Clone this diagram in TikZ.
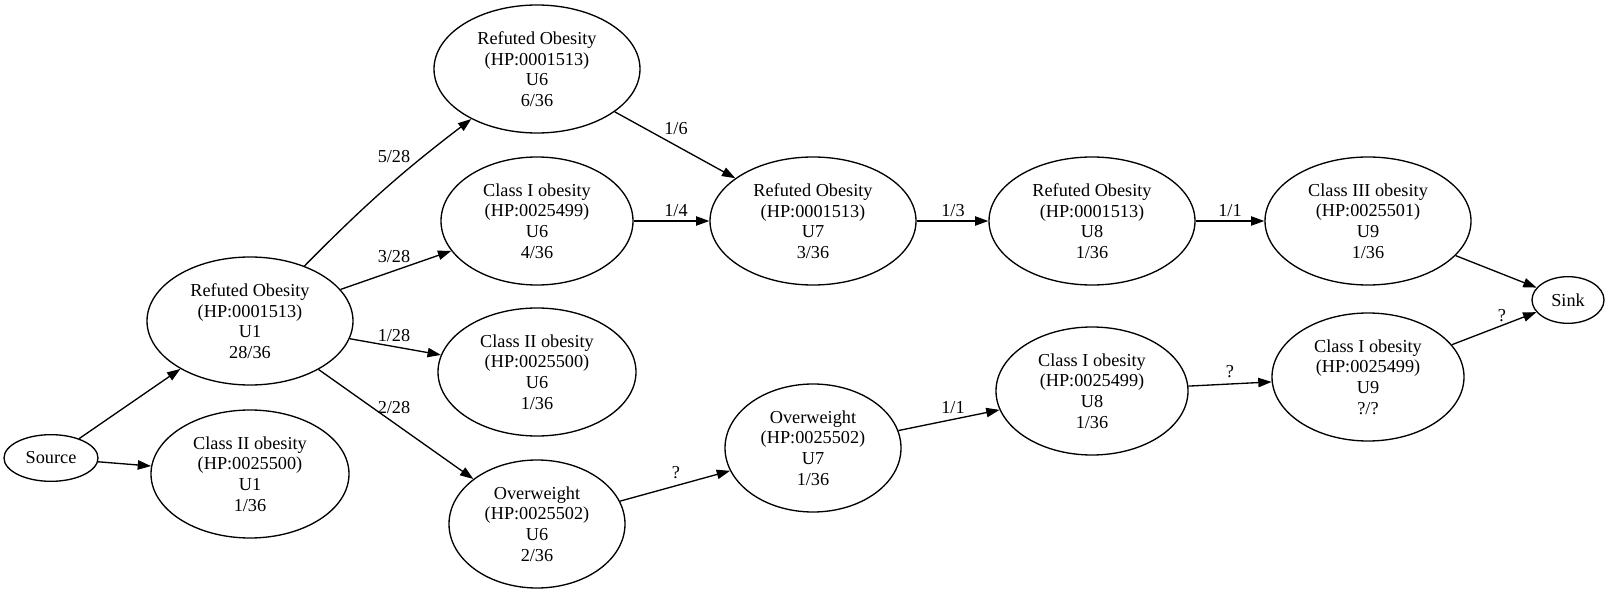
\documentclass[tikz,border=0pt]{standalone}
\usepackage{fontspec}
\setmainfont{Liberation Serif}
\usetikzlibrary{shapes.geometric,arrows.meta}

\begin{document}
\begin{tikzpicture}[x=0.75pt,y=-0.75pt,
    state/.style={ellipse, draw, line width=1pt, inner sep=0pt, align=center,
      minimum height=96pt, font=\fontsize{13.7}{15.4}\selectfont},
    edge/.style={line width=1pt, -{Triangle[length=10pt,width=7pt]}},
    lbl/.style={font=\fontsize{13.7}{15.4}\selectfont, inner sep=0pt}]

      % Page size (pixels of the reference)
      \useasboundingbox (0,0) rectangle (1610,595);

      % Source and sink
      \node[state, minimum width=70.5pt, minimum height=35pt] (src) at (51,458) {Source};
      \node[state, minimum width=54pt, minimum height=35pt] (sink) at (1568,300) {Sink};

      % Rank U1
      \node[state, minimum width=154.5pt] (ro1) at (250,321) {Refuted Obesity\\ (HP:0001513)\\U1\\28/36};
      \node[state, minimum width=148.5pt] (ctwo1) at (250,474) {Class II obesity\\ (HP:0025500)\\U1\\1/36};

      % Rank U6
      \node[state, minimum width=154.5pt] (ro6) at (537,69) {Refuted Obesity\\ (HP:0001513)\\U6\\6/36};
      \node[state, minimum width=144pt] (cone6) at (537,221) {Class I obesity\\ (HP:0025499)\\U6\\4/36};
      \node[state, minimum width=148.5pt] (ctwo6) at (537,372) {Class II obesity\\ (HP:0025500)\\U6\\1/36};
      \node[state, minimum width=132pt] (ow6) at (537,524) {Overweight\\ (HP:0025502)\\U6\\2/36};

      % Rank U7
      \node[state, minimum width=154.5pt] (ro7) at (813,221) {Refuted Obesity\\ (HP:0001513)\\U7\\3/36};
      \node[state, minimum width=132pt] (ow7) at (813,448) {Overweight\\ (HP:0025502)\\U7\\1/36};

      % Rank U8
      \node[state, minimum width=154.5pt] (ro8) at (1092,221) {Refuted Obesity\\ (HP:0001513)\\U8\\1/36};
      \node[state, minimum width=144pt] (cone8) at (1092,391) {Class I obesity\\ (HP:0025499)\\U8\\1/36};

      % Rank U9
      \node[state, minimum width=154.5pt] (cthree9) at (1368,221) {Class III obesity\\ (HP:0025501)\\U9\\1/36};
      \node[state, minimum width=144pt] (cone9) at (1368,377) {Class I obesity\\ (HP:0025499)\\U9\\?/?};

      % Edges
      \draw[edge] (ro1) to[bend left=4] (ro6);
      \foreach \a/\b in {src/ro1, src/ctwo1, ro1/cone6, ro1/ctwo6, ro1/ow6,
                         ro6/ro7, cone6/ro7, ow6/ow7, ro7/ro8, ow7/cone8,
                         ro8/cthree9, cone8/cone9, cthree9/sink, cone9/sink} {
        \draw[edge] (\a) -- (\b);
      }

      % Edge labels
      \foreach \x/\y/\t [count=\i] in {394/157/5\slash 28, 394/257/3\slash 28, 394/336/1\slash 28,
                                       394/408/2\slash 28, 676/129/1\slash 6, 676/211/1\slash 4,
                                       676/473/?, 953/211/1\slash 3, 953/408/1\slash 1,
                                       1230/211/1\slash 1, 1230/372/?, 1502/316/?} {
        \node[lbl] (l\i) at (\x,\y) {\t};
      }
    \end{tikzpicture}
\end{document}
